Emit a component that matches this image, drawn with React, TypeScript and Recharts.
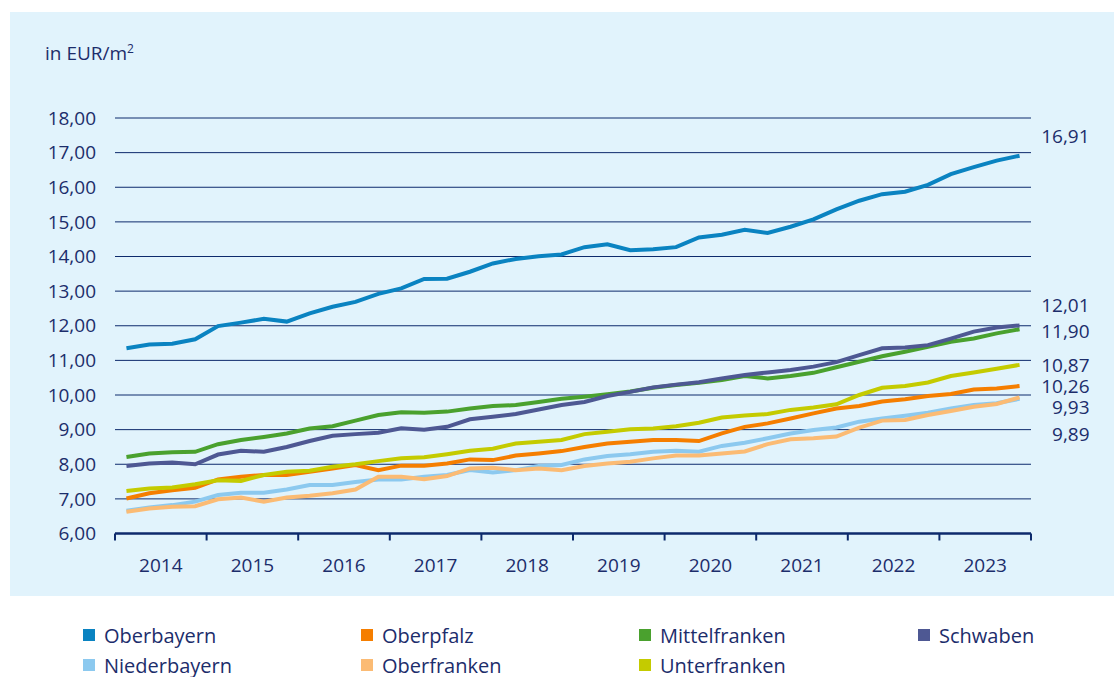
import React from 'react';
import { LineChart, Line, XAxis, YAxis, CartesianGrid, LabelList } from 'recharts';

const years = ['2014', '2015', '2016', '2017', '2018', '2019', '2020', '2021', '2022', '2023'];
const yTicks = [6, 7, 8, 9, 10, 11, 12, 13, 14, 15, 16, 17, 18];

const seriesNames = ['Oberbayern', 'Oberpfalz', 'Mittelfranken', 'Schwaben', 'Niederbayern', 'Oberfranken', 'Unterfranken'];
const seriesColors = ['#0a83c1', '#f57e00', '#4aa12e', '#4e5893', '#8cc9ef', '#fbbb74', '#c4cb00'];
const endLabelShift = [-20, 0, 2, -20, 35, 10, 0];

const oberbayern = [11.35, 11.46, 11.48, 11.61, 11.99, 12.09, 12.2, 12.12, 12.36, 12.55, 12.69, 12.92, 13.08, 13.35, 13.36, 13.56, 13.8, 13.93, 14.01, 14.06, 14.27, 14.35, 14.18, 14.21, 14.27, 14.55, 14.63, 14.77, 14.68, 14.86, 15.07, 15.36, 15.61, 15.8, 15.87, 16.07, 16.38, 16.58, 16.77, 16.91];
const oberpfalz = [7.01, 7.16, 7.25, 7.32, 7.56, 7.64, 7.69, 7.69, 7.78, 7.88, 7.98, 7.83, 7.96, 7.96, 8.02, 8.14, 8.12, 8.25, 8.31, 8.38, 8.5, 8.6, 8.65, 8.7, 8.7, 8.67, 8.89, 9.08, 9.18, 9.32, 9.47, 9.61, 9.68, 9.81, 9.88, 9.97, 10.03, 10.16, 10.19, 10.26];
const mittelfranken = [8.21, 8.31, 8.35, 8.36, 8.58, 8.7, 8.79, 8.89, 9.03, 9.1, 9.26, 9.42, 9.5, 9.49, 9.52, 9.61, 9.68, 9.71, 9.8, 9.89, 9.95, 10.02, 10.1, 10.21, 10.29, 10.35, 10.43, 10.55, 10.48, 10.55, 10.64, 10.8, 10.96, 11.12, 11.25, 11.39, 11.54, 11.63, 11.78, 11.9];
const schwaben = [7.95, 8.02, 8.05, 8.0, 8.28, 8.39, 8.36, 8.5, 8.67, 8.82, 8.87, 8.91, 9.04, 9.0, 9.08, 9.3, 9.37, 9.45, 9.58, 9.71, 9.8, 9.97, 10.09, 10.22, 10.3, 10.37, 10.48, 10.58, 10.65, 10.72, 10.82, 10.95, 11.15, 11.35, 11.37, 11.44, 11.63, 11.83, 11.95, 12.01];
const niederbayern = [6.66, 6.75, 6.82, 6.92, 7.11, 7.18, 7.18, 7.27, 7.4, 7.4, 7.49, 7.56, 7.56, 7.64, 7.69, 7.83, 7.76, 7.83, 7.95, 7.98, 8.14, 8.24, 8.29, 8.36, 8.39, 8.36, 8.53, 8.62, 8.75, 8.89, 8.99, 9.06, 9.23, 9.32, 9.4, 9.49, 9.61, 9.71, 9.76, 9.89];
const oberfranken = [6.63, 6.72, 6.77, 6.79, 6.99, 7.04, 6.92, 7.04, 7.09, 7.16, 7.27, 7.64, 7.64, 7.57, 7.66, 7.88, 7.9, 7.83, 7.88, 7.83, 7.95, 8.02, 8.07, 8.17, 8.25, 8.25, 8.31, 8.37, 8.58, 8.72, 8.75, 8.8, 9.06, 9.26, 9.28, 9.42, 9.54, 9.66, 9.74, 9.93];
const unterfranken = [7.23, 7.3, 7.33, 7.42, 7.54, 7.52, 7.69, 7.78, 7.81, 7.93, 8.0, 8.09, 8.17, 8.2, 8.29, 8.39, 8.45, 8.6, 8.65, 8.7, 8.87, 8.94, 9.01, 9.03, 9.1, 9.2, 9.35, 9.41, 9.45, 9.57, 9.64, 9.73, 10.0, 10.21, 10.26, 10.36, 10.55, 10.65, 10.76, 10.87];

const seriesValues = [oberbayern, oberpfalz, mittelfranken, schwaben, niederbayern, oberfranken, unterfranken];

const quartersPerYear = 4;
const data = oberbayern.map((_, i) => {
  const row: Record<string, number> = { q: i + 0.5 };
  seriesNames.forEach((name, s) => {
    row[name] = seriesValues[s][i];
  });
  return row;
});

const nQ = years.length * quartersPerYear;
const boundaryTicks = Array.from({ length: years.length + 1 }, (_, k) => k * quartersPerYear);
const yearTicks = years.map((_, k) => k * quartersPerYear + quartersPerYear / 2);

const FONT = '"Open Sans", "Noto Sans", sans-serif';
const NAVY = '#1c2d6b';
const GRID = '#0d2a6c';

const fmt = (v: number) => v.toFixed(2).replace('.', ',');

const makeEndLabel = (shift: number) => (props: any) => {
  const { x, y, value, index } = props;
  if (index !== nQ - 1) return null;
  return (
    <text
      x={Number(x) + 70}
      y={Number(y) + shift}
      textAnchor="end"
      dominantBaseline="central"
      fontFamily={FONT}
      fontSize={19}
      fill={NAVY}
    >
      {fmt(Number(value))}
    </text>
  );
};

export default function App() {
  return (
    <div style={{ position: 'absolute', left: 0, top: 0, width: 1114, height: 677, background: '#ffffff', fontFamily: FONT }}>
      <div style={{ position: 'absolute', left: 10, top: 12, width: 1104, height: 584, background: '#e1f3fc' }} />
      <div style={{ position: 'absolute', left: 45, top: 40, fontSize: 19, color: NAVY, lineHeight: '26px' }}>
        in EUR/m<sup style={{ fontSize: 12, verticalAlign: 'top', lineHeight: '18px' }}>2</sup>
      </div>
      <div style={{ position: 'absolute', left: 0, top: 0 }}>
        <LineChart width={1114} height={677} data={data} margin={{ top: 118, right: 83, bottom: 102.5, left: 15 }}>
          <CartesianGrid xAxisId="main" horizontal vertical={false} stroke={GRID} strokeWidth={1} />
          <XAxis
            xAxisId="bounds"
            dataKey="q"
            type="number"
            domain={[0, nQ]}
            ticks={boundaryTicks}
            tickFormatter={() => ''}
            height={1}
            tickSize={7}
            axisLine={{ stroke: GRID, strokeWidth: 2.5 }}
            tickLine={{ stroke: GRID, strokeWidth: 2 }}
          />
          <XAxis
            xAxisId="main"
            dataKey="q"
            type="number"
            domain={[0, nQ]}
            ticks={yearTicks}
            interval={0}
            tickFormatter={(v: number) => years[Math.round((v - quartersPerYear / 2) / quartersPerYear)]}
            height={40}
            tickSize={0}
            tickMargin={24}
            axisLine={false}
            tickLine={false}
            tick={{ fill: NAVY, fontSize: 19, fontFamily: FONT }}
          />
          <YAxis
            domain={[6, 18]}
            ticks={yTicks}
            interval={0}
            width={100}
            axisLine={false}
            tickLine={false}
            tickMargin={13}
            tickFormatter={fmt}
            tick={{ fill: NAVY, fontSize: 19, fontFamily: FONT }}
          />
          {seriesNames.map((name, s) => (
            <Line
              key={name}
              xAxisId="main"
              dataKey={name}
              stroke={seriesColors[s]}
              strokeWidth={4}
              dot={false}
              isAnimationActive={false}
            >
              <LabelList dataKey={name} content={makeEndLabel(endLabelShift[s])} />
            </Line>
          ))}
        </LineChart>
      </div>
      <div style={{ position: 'absolute', left: 83, top: 622, width: 1031, display: 'grid', gridTemplateColumns: '278px 278px 279px 200px', rowGap: 4 }}>
        {seriesNames.map((name, s) => (
          <div key={name} style={{ display: 'flex', alignItems: 'center', height: 26, fontSize: 20, color: NAVY }}>
            <span style={{ display: 'inline-block', width: 12, height: 12, background: seriesColors[s], marginRight: 9 }} />
            {name}
          </div>
        ))}
      </div>
    </div>
  );
}
